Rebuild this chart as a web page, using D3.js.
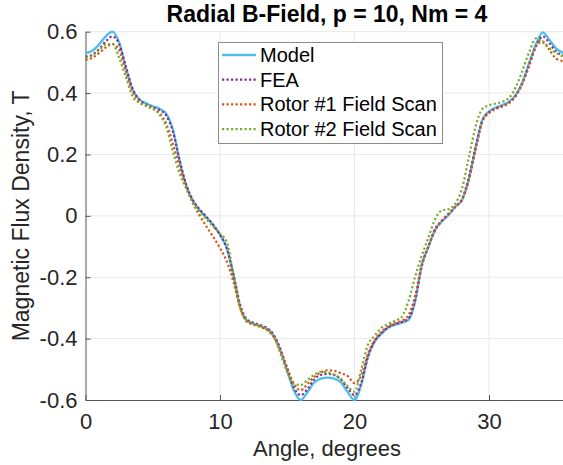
<!DOCTYPE html>
<html>
<head>
<meta charset="utf-8">
<script src="https://cdn.jsdelivr.net/npm/d3@7"></script>
<style>
  body { margin: 0; background: #fff; }
  svg { display: block; font-family: "Liberation Sans", Arial, Helvetica, sans-serif; }
</style>
</head>
<body>
<div id="chart"></div>
<script>
// Angle samples, degrees
const angles = d3.range(0, 36.001, 0.5);

// Radial flux density, T
const model = [0.530, 0.538, 0.558, 0.585, 0.600, 0.565, 0.483, 0.412, 0.380, 0.367, 0.357, 0.349, 0.333, 0.280, 0.180, 0.097,
  0.048, 0.018, -0.005, -0.030, -0.062, -0.105, -0.195, -0.298, -0.340, -0.351, -0.359, -0.368, -0.390, -0.440, -0.505, -0.570,
  -0.600, -0.575, -0.543, -0.530, -0.527, -0.530, -0.543, -0.575, -0.600, -0.550, -0.460, -0.410, -0.385, -0.365, -0.355, -0.349,
  -0.340, -0.280, -0.160, -0.101, -0.045, -0.018, 0.003, 0.030, 0.052, 0.120, 0.220, 0.312, 0.340, 0.353, 0.361, 0.372,
  0.395, 0.437, 0.500, 0.560, 0.598, 0.573, 0.545, 0.532, 0.528];

const fea = [0.519, 0.525, 0.543, 0.568, 0.585, 0.560, 0.487, 0.415, 0.378, 0.364, 0.354, 0.345, 0.327, 0.275, 0.180, 0.100,
  0.050, 0.020, -0.004, -0.030, -0.062, -0.105, -0.190, -0.290, -0.337, -0.348, -0.356, -0.366, -0.388, -0.435, -0.500, -0.560,
  -0.584, -0.565, -0.533, -0.518, -0.515, -0.519, -0.533, -0.562, -0.584, -0.545, -0.458, -0.408, -0.382, -0.363, -0.353, -0.346,
  -0.335, -0.277, -0.165, -0.100, -0.042, -0.016, 0.006, 0.030, 0.055, 0.125, 0.225, 0.310, 0.337, 0.350, 0.358, 0.369,
  0.392, 0.435, 0.495, 0.553, 0.585, 0.562, 0.535, 0.523, 0.519];

const rotor1 = [0.508, 0.515, 0.530, 0.548, 0.560, 0.540, 0.470, 0.405, 0.372, 0.358, 0.348, 0.335, 0.300, 0.235, 0.160, 0.093,
  0.040, 0.000, -0.035, -0.069, -0.105, -0.148, -0.215, -0.300, -0.345, -0.355, -0.362, -0.372, -0.395, -0.440, -0.495, -0.548,
  -0.568, -0.548, -0.525, -0.510, -0.503, -0.505, -0.513, -0.522, -0.545, -0.520, -0.450, -0.405, -0.378, -0.360, -0.350, -0.342,
  -0.325, -0.262, -0.160, -0.098, -0.048, -0.015, 0.008, 0.030, 0.052, 0.115, 0.215, 0.305, 0.335, 0.348, 0.356, 0.368,
  0.392, 0.432, 0.490, 0.553, 0.568, 0.540, 0.512, 0.505, 0.505];

const rotor2 = [0.514, 0.522, 0.540, 0.558, 0.560, 0.515, 0.452, 0.389, 0.368, 0.360, 0.352, 0.330, 0.290, 0.210, 0.138, 0.087,
  0.042, 0.013, -0.012, -0.035, -0.058, -0.085, -0.190, -0.300, -0.342, -0.352, -0.360, -0.370, -0.395, -0.450, -0.510, -0.548,
  -0.551, -0.535, -0.518, -0.508, -0.510, -0.518, -0.533, -0.555, -0.573, -0.500, -0.420, -0.390, -0.365, -0.352, -0.342, -0.330,
  -0.280, -0.200, -0.130, -0.070, -0.010, 0.018, 0.022, 0.040, 0.090, 0.190, 0.290, 0.348, 0.360, 0.366, 0.372, 0.385,
  0.420, 0.475, 0.535, 0.578, 0.565, 0.546, 0.530, 0.520, 0.514];

const seriesNames = ["Model", "FEA", "Rotor #1 Field Scan", "Rotor #2 Field Scan"];
const seriesColors = ["#4DBEEE", "#7E2F8E", "#D95319", "#77AC30"];
const xTicks = [0, 10, 20, 30];
const yTicks = [-0.6, -0.4, -0.2, 0, 0.2, 0.4, 0.6];

const width = 563, height = 465;
const margin = { left: 85.5, right: -6.7, top: 31.7, bottom: 65 };

const svg = d3.select("#chart").append("svg")
    .attr("width", width)
    .attr("height", height)
    .style("overflow", "hidden");

const x = d3.scaleLinear().domain([0, 36]).range([margin.left, width - margin.right]);
const y = d3.scaleLinear().domain([-0.6, 0.6]).range([height - margin.bottom, margin.top]);

// grid
svg.append("g").selectAll("line").data(xTicks.slice(1)).join("line")
    .attr("x1", d => x(d)).attr("x2", d => x(d))
    .attr("y1", y(-0.6)).attr("y2", y(0.6))
    .attr("stroke", "#e8e8e8").attr("stroke-width", 1);
svg.append("g").selectAll("line").data(yTicks.slice(1)).join("line")
    .attr("x1", x(0)).attr("x2", x(36))
    .attr("y1", d => y(d)).attr("y2", d => y(d))
    .attr("stroke", "#e8e8e8").attr("stroke-width", 1);

// axes (hyphen minus like the original, not U+2212)
const yFmt = d => d === 0 ? "0" : d.toFixed(1);
const xAxis = svg.append("g")
    .attr("transform", `translate(0,${y(-0.6)})`)
    .call(d3.axisBottom(x).tickValues(xTicks).tickSizeInner(-5).tickSizeOuter(0).tickPadding(13).tickFormat(d => String(d)));
const yAxis = svg.append("g")
    .attr("transform", `translate(${x(0)},0)`)
    .call(d3.axisLeft(y).tickValues(yTicks).tickSizeInner(-5).tickSizeOuter(0).tickPadding(8).tickFormat(yFmt));
[xAxis, yAxis].forEach(g => {
    g.select(".domain").attr("stroke", "#555").attr("stroke-width", 1);
    g.selectAll(".tick line").attr("stroke", "#555");
    g.selectAll(".tick text").attr("fill", "#262626").style("font-size", "22px").style("font-family", "Liberation Sans, Arial, sans-serif");
});

// lines
const line = d3.line().x((d, i) => x(angles[i])).y(d => y(d)).curve(d3.curveMonotoneX);
const allSeries = [model, fea, rotor1, rotor2];
const plot = svg.append("g");
allSeries.forEach((vals, i) => {
    plot.append("path")
        .datum(vals)
        .attr("d", line)
        .attr("fill", "none")
        .attr("stroke", seriesColors[i])
        .attr("stroke-width", i === 0 ? 2.3 : 2.2)
        .attr("stroke-dasharray", i === 0 ? null : "2.2,2.3");
});

// title and labels
svg.append("text")
    .attr("x", 327).attr("y", 22)
    .attr("text-anchor", "middle")
    .style("font-size", "23px").style("font-weight", "bold")
    .attr("fill", "#000")
    .text("Radial B-Field, p = 10, Nm = 4");

svg.append("text")
    .attr("x", 327).attr("y", 456)
    .attr("text-anchor", "middle")
    .style("font-size", "22px")
    .attr("fill", "#262626")
    .text("Angle, degrees");

svg.append("text")
    .attr("transform", `translate(29,${y(0)}) rotate(-90)`)
    .attr("text-anchor", "middle")
    .style("font-size", "23px")
    .attr("fill", "#262626")
    .text("Magnetic Flux Density, T");

// legend
const legend = svg.append("g");
legend.append("rect")
    .attr("x", 218.5).attr("y", 42.5).attr("width", 224).attr("height", 101)
    .attr("fill", "#fff").attr("stroke", "#8c8c8c").attr("stroke-width", 1);
seriesNames.forEach((name, i) => {
    const cy = 55 + i * 24.7;
    legend.append("line")
        .attr("x1", 222).attr("x2", 256).attr("y1", cy).attr("y2", cy)
        .attr("stroke", seriesColors[i]).attr("stroke-width", i === 0 ? 2.3 : 2.2)
        .attr("stroke-dasharray", i === 0 ? null : "2.2,2.3");
    legend.append("text")
        .attr("x", 260).attr("y", cy + 7)
        .style("font-size", "20px")
        .attr("fill", "#000")
        .text(name);
});
</script>
</body>
</html>
